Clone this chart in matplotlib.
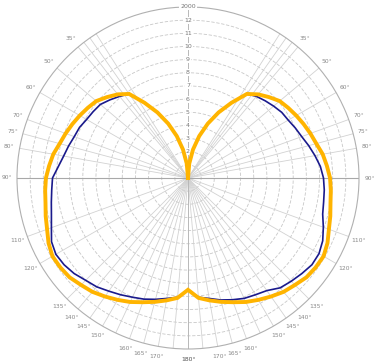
import numpy as np
import matplotlib.pyplot as plt

# angles in degrees, measured from nadir line at top (0) to 180 at bottom
angles = [0, 5, 10, 15, 20, 25, 30, 35, 40, 45, 50, 55, 60, 65, 70, 75, 80, 85, 90,
          95, 100, 105, 110, 115, 120, 125, 130, 135, 140, 145, 150, 155, 160, 165,
          170, 175, 180]

# thick yellow curve (symmetric)
yellow = [0, 1.1, 2.2, 3.3, 4.4, 5.5, 6.6, 7.8, 8.3, 8.7, 9.1, 9.3, 9.5, 9.7, 9.9,
          10.1, 10.4, 10.6, 10.8, 10.9, 11.0, 11.2, 11.4, 11.7, 11.9, 11.85, 11.75,
          11.5, 11.3, 11.0, 10.7, 10.4, 10.05, 9.75, 9.45, 9.15, 8.5]

# thin navy curve, left and right halves
navy_left = [0, 1.1, 2.2, 3.3, 4.4, 5.5, 6.6, 7.8, 8.1, 8.4, 8.7, 8.8, 8.9, 9.1, 9.2,
             9.4, 9.6, 9.9, 10.3, 10.4, 10.55, 10.75, 11.05, 11.45, 11.6, 11.5, 11.3,
             11.0, 10.8, 10.5, 10.25, 10.0, 9.8, 9.55, 9.3, 9.1, 8.5]
navy_right = [0, 1.1, 2.2, 3.3, 4.4, 5.5, 6.6, 7.8, 8.1, 8.3, 8.5, 8.7, 8.8, 9.0, 9.2,
              9.5, 9.8, 10.1, 10.3, 10.4, 10.47, 10.6, 10.95, 11.3, 11.5, 11.5, 11.3,
              11.1, 10.9, 10.45, 10.25, 10.1, 9.85, 9.6, 9.3, 9.1, 8.5]

ring_values = list(range(1, 13))
ring_labels = [str(v) for v in ring_values]
outer_value = 13
outer_label = "2000"

grid_angles = [32.5, 35, 37.5, 40, 50, 60, 70, 75, 80, 90, 110, 120, 135, 140, 145,
               150, 155, 160, 165, 170, 175]
angle_labels = [35, 50, 60, 70, 75, 80, 90, 110, 120, 135, 140, 145, 150, 160, 165,
                170, 180]


def full_curve(left, right):
    a = np.radians(angles)
    th = np.concatenate([a, 2 * np.pi - a[::-1]])
    r = np.concatenate([left, right[::-1]])
    return th, r


fig = plt.figure(figsize=(3.76, 3.64), dpi=100)
ax = fig.add_axes([17 / 376, 15 / 364, 342 / 376, 342 / 364], projection='polar')
ax.set_theta_zero_location('N')
ax.set_theta_direction(1)
ax.set_ylim(0, outer_value)
ax.grid(False)
ax.set_xticks([])
ax.set_yticks([])
ax.spines['polar'].set_color('#b0b0b0')
ax.spines['polar'].set_linewidth(0.8)

# rings
t = np.linspace(0, 2 * np.pi, 400)
for v in ring_values:
    ax.plot(t, np.full_like(t, v), color='#c8c8c8', lw=0.6, ls=(0, (4, 2)), zorder=1)

# rays
for g in grid_angles:
    for s in (1, -1):
        ax.plot([np.radians(s * g)] * 2, [0, outer_value], color='#d2d2d2', lw=0.6, zorder=1)
ax.plot([0, 0], [0, outer_value], color='#b8b8b8', lw=0.7, zorder=1)
ax.plot([np.pi, np.pi], [0, outer_value], color='#b8b8b8', lw=0.7, zorder=1)
ax.plot([np.pi / 2] * 2, [0, outer_value], color='#a8a8a8', lw=0.8, zorder=1)
ax.plot([-np.pi / 2] * 2, [0, outer_value], color='#a8a8a8', lw=0.8, zorder=1)

# radial labels
for v, lab in zip(ring_values, ring_labels):
    ax.text(0, v, lab, fontsize=4.5, color='#777777', ha='center', va='center',
            bbox=dict(boxstyle='square,pad=0.15', fc='white', ec='none'), zorder=3)
ax.text(0, outer_value, outer_label, fontsize=4.5, color='#777777', ha='center',
        va='center', bbox=dict(boxstyle='square,pad=0.15', fc='white', ec='none'),
        zorder=3, clip_on=False)

# angle labels
for g in angle_labels:
    pos = g + 5 if g == 35 else g
    for s in (1, -1):
        ax.text(np.radians(s * pos), 13.8, f"{g}°", fontsize=4.3, color='#888888',
                ha='center', va='center', clip_on=False)

th, r = full_curve(navy_left, navy_right)
ax.plot(th, r, color='#1a1a8c', lw=1.2, zorder=4)
th, r = full_curve(yellow, yellow)
ax.plot(th, r, color='#ffb400', lw=2.8, zorder=5, solid_joinstyle='miter')

fig.savefig('out.png', dpi=100)
